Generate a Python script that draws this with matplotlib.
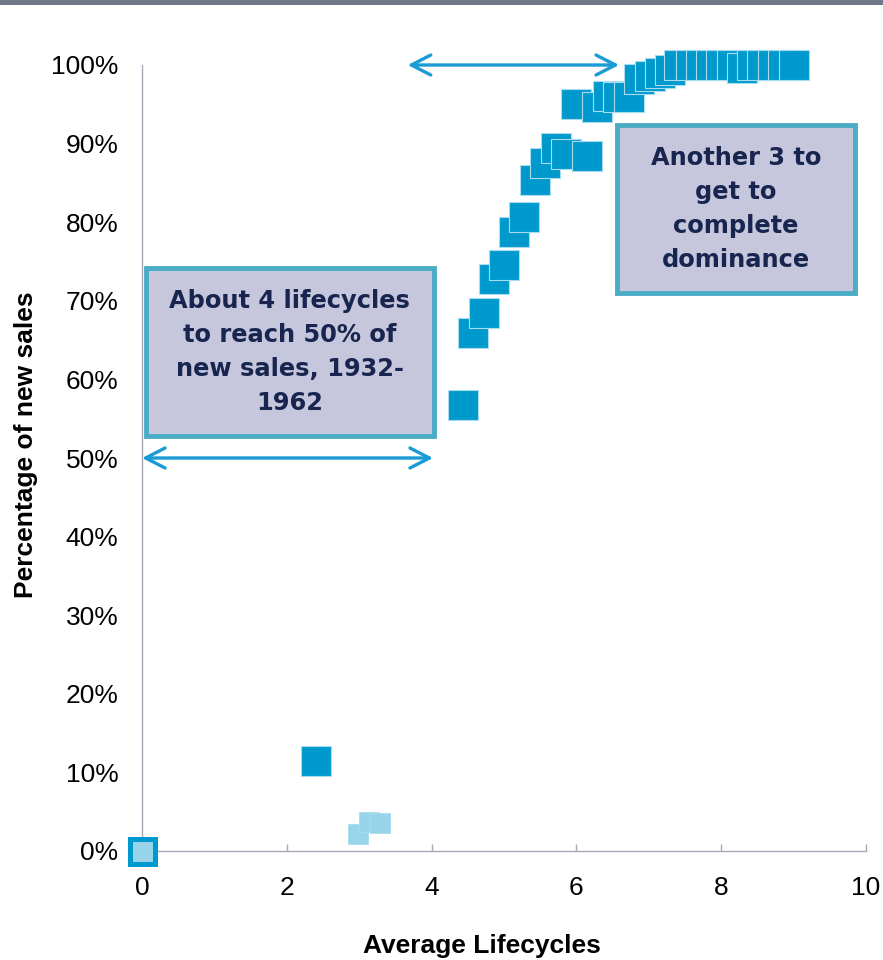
"""Adoption curve: share of new sales vs. average lifecycles."""

import matplotlib.pyplot as plt
from matplotlib.patches import Rectangle
from matplotlib.ticker import PercentFormatter

# Data
origin_x = [0.0]
origin_y = [0.0]

early_x = [2.99, 3.13, 3.29]
early_y = [0.022, 0.037, 0.036]

main_x = [2.40, 4.43, 4.57, 4.72, 4.86, 5.00, 5.14, 5.28, 5.43, 5.57,
          5.72, 5.86, 6.00, 6.14, 6.29, 6.43, 6.57, 6.72, 6.86, 7.01,
          7.15, 7.29, 7.42, 7.58, 7.72, 7.86, 8.00, 8.15, 8.29, 8.43,
          8.57, 8.72, 8.86, 9.01]
main_y = [0.115, 0.568, 0.659, 0.685, 0.728, 0.746, 0.788, 0.806, 0.854, 0.875,
          0.895, 0.887, 0.950, 0.884, 0.947, 0.961, 0.959, 0.959, 0.982, 0.986,
          0.990, 0.994, 1.000, 1.000, 1.000, 1.000, 1.000, 1.000, 0.996, 1.000,
          1.000, 1.000, 1.000, 1.000]

x_ticks = [0, 2, 4, 6, 8, 10]
y_ticks = [0, 0.1, 0.2, 0.3, 0.4, 0.5, 0.6, 0.7, 0.8, 0.9, 1.0]

box1_text = "About 4 lifecycles\nto reach 50% of\nnew sales, 1932-\n1962"
box2_text = "Another 3 to\nget to\ncomplete\ndominance"

DARK = "#0099CE"
LIGHT = "#99D5EA"
EDGE = "#A8DCEE"
ARROW = "#1A9BD5"
AXIS = "#A4AAB6"
BOX_FILL = "#C6C6DC"
BOX_EDGE = "#4BACC6"
BOX_TEXT = "#18264F"

plt.rcParams.update({
    "font.family": ["Liberation Sans", "DejaVu Sans"],
    "font.size": 19,
})

fig = plt.figure(figsize=(8.83, 9.6), dpi=100)
ax = fig.add_axes([142 / 883, 109 / 960, 724 / 883, 786 / 960])

# slate band along the top edge
fig.patches.append(Rectangle((0, 1 - 5 / 960), 1, 5 / 960, transform=fig.transFigure,
                             facecolor="#6E7A89", edgecolor="none"))

ax.plot(main_x, main_y, ls="none", marker="s", markersize=21.6,
        markerfacecolor=DARK, markeredgecolor=EDGE, markeredgewidth=0.8,
        clip_on=False, zorder=3)
ax.plot(early_x, early_y, ls="none", marker="s", markersize=14,
        markerfacecolor=LIGHT, markeredgecolor=EDGE, markeredgewidth=0.6,
        clip_on=False, zorder=3)
ax.plot(origin_x, origin_y, ls="none", marker="s", markersize=18,
        markerfacecolor=LIGHT, markeredgecolor=DARK, markeredgewidth=3.6,
        clip_on=False, zorder=4)

ax.set_xlim(0, 10)
ax.set_ylim(0, 1.0)
ax.set_xticks(x_ticks)
ax.set_yticks(y_ticks)
ax.yaxis.set_major_formatter(PercentFormatter(1.0, decimals=0))

for side in ["top", "right"]:
    ax.spines[side].set_visible(False)
for side in ["left", "bottom"]:
    ax.spines[side].set_color(AXIS)
    ax.spines[side].set_linewidth(1.0)

ax.tick_params(axis="x", direction="in", length=5, width=1, color=AXIS,
               pad=18, labelsize=19, labelcolor="black")
ax.tick_params(axis="y", length=0, pad=17, labelsize=19, labelcolor="black")

ax.set_xlabel("Average Lifecycles", fontweight="bold", fontsize=19)
ax.xaxis.set_label_coords(0.4696, -0.106)
ax.set_ylabel("Percentage of new sales", fontweight="bold", fontsize=19)
ax.yaxis.set_label_coords(-0.143, 0.5165)

# double-headed span arrows
arrow_style = "<->,head_length=0.7,head_width=0.36"
ax.annotate("", xy=(3.67, 1.0), xytext=(6.59, 1.0),
            arrowprops=dict(arrowstyle=arrow_style, color=ARROW, lw=2.4,
                            mutation_scale=20, shrinkA=0, shrinkB=0),
            annotation_clip=False)
ax.annotate("", xy=(0.0, 0.50), xytext=(4.02, 0.50),
            arrowprops=dict(arrowstyle=arrow_style, color=ARROW, lw=2.4,
                            mutation_scale=20, shrinkA=0, shrinkB=0),
            annotation_clip=False)

# callout boxes
for (x0, x1, y0, y1), text in [((0.055, 4.03, 0.528, 0.742), box1_text),
                               ((6.56, 9.85, 0.710, 0.924), box2_text)]:
    ax.add_patch(Rectangle((x0, y0), x1 - x0, y1 - y0, facecolor=BOX_FILL,
                           edgecolor=BOX_EDGE, linewidth=3.5, zorder=5,
                           clip_on=False))
    ax.text((x0 + x1) / 2, (y0 + y1) / 2, text, ha="center", va="center",
            fontsize=17.4, fontweight="bold", family="DejaVu Sans",
            color=BOX_TEXT, linespacing=1.52, zorder=6)

fig.savefig("out.png", dpi=100)
